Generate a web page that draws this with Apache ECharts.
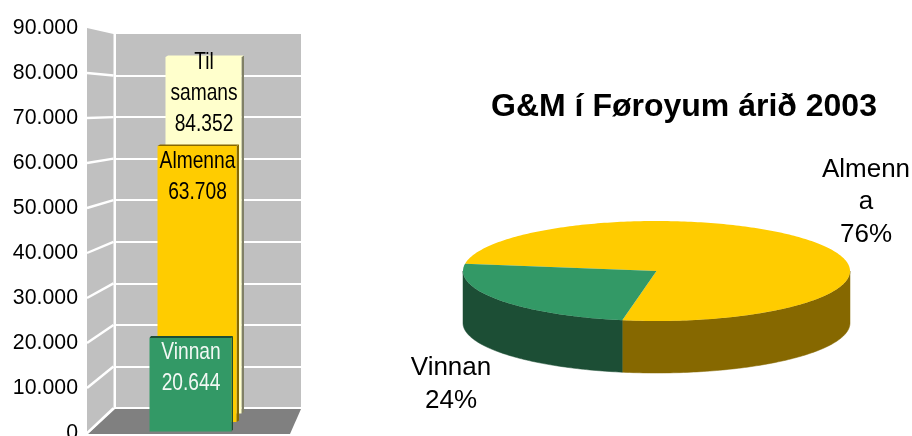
<!DOCTYPE html>
<html>
<head>
<meta charset="utf-8">
<style>
  html, body { margin: 0; padding: 0; background: #fff; }
  #chart { width: 912px; height: 436px; }
</style>
<script src="https://cdn.jsdelivr.net/npm/echarts@6/dist/echarts.min.js"></script>
</head>
<body>
<div id="chart"></div>
<script>
// stacked-looking 3D columns (back to front)
var barNames = ['Til\nsamans', 'Almenna', 'Vinnan']
var barValues = [84352, 63708, 20644]
var barColors = ['#FFFFCC', '#FFCC00', '#339966']
var barSideColors = ['#808066', '#866800', '#1C4E35']
var barTextColors = ['#000', '#000', '#F2F8F4']

var yTicks = [0, 10000, 20000, 30000, 40000, 50000, 60000, 70000, 80000, 90000]

// pie
var pieNames = ['Almenn\na', 'Vinnan']
var pieValues = [63708, 20644]
var pieColors = ['#FFCC00', '#339966']
var pieSideColors = ['#866800', '#1C4E35']

var FONT = '"Liberation Sans", Arial, sans-serif'
var chart = echarts.init(document.getElementById('chart'), null, { renderer: 'canvas' })

function dotted(v) {
  return String(v).replace(/\B(?=(\d{3})+$)/g, '.')
}

function gridBox(left, right, baseY, fullHeight) {
  return {
    left: left,
    width: right - left,
    top: baseY - fullHeight,
    height: fullHeight,
    outerBoundsMode: 'none'
  }
}

// each depth of the perspective has its own grid and value scale
var depths = [
  gridBox(165.5, 241.5, 413.5, 380.4),
  gridBox(157.5, 236.5, 422, 389.9),
  gridBox(149.5, 231.5, 431.5, 407.7)
]
var frontGrid = gridBox(87, 301, 433, 405)
var backGrid = gridBox(116, 301, 408, 374)
backGrid.show = true
backGrid.backgroundColor = '#C0C0C0'
backGrid.borderWidth = 0

var grids = [frontGrid, backGrid].concat(depths)
var xAxes = []
var yAxes = []
grids.forEach(function(g, i) {
  var isFront = i === 0
  var isBack = i === 1
  xAxes.push({
    gridIndex: i,
    type: 'category',
    data: i > 1 ? [barNames[i - 2]] : [''],
    show: false
  })
  yAxes.push({
    gridIndex: i,
    type: 'value',
    min: 0,
    max: 90000,
    interval: 10000,
    axisLine: { show: false },
    axisTick: { show: false },
    axisLabel: {
      show: isFront,
      margin: 9,
      fontFamily: FONT,
      fontSize: 21.3,
      color: '#000',
      formatter: dotted
    },
    splitLine: {
      show: isBack,
      showMaxLine: false,
      lineStyle: { color: '#fff', width: 2 }
    }
  })
})

// side wall and floor, tied to the front and back value axes
function renderWalls() {
  var front = function(v) { return chart.convertToPixel({ yAxisIndex: 0 }, v) }
  var back = function(v) { return chart.convertToPixel({ yAxisIndex: 1 }, v) }
  var wallX0 = 87
  var wallX1 = 113.5
  var top = yTicks[yTicks.length - 1]
  var children = [
    {
      type: 'polygon',
      shape: { points: [[wallX0, front(top)], [wallX1, back(top)], [wallX1, back(0)], [wallX0, front(0)]] },
      style: { fill: '#C0C0C0' }
    },
    {
      type: 'polygon',
      shape: { points: [[115, back(0) + 1], [301, back(0) + 1], [290, front(0) + 1], [88, front(0) + 1]] },
      style: { fill: '#808080' }
    }
  ]
  yTicks.forEach(function(t) {
    if (t === top) return
    children.push({
      type: 'line',
      shape: { x1: wallX0, y1: front(t), x2: wallX1, y2: back(t) },
      style: { stroke: '#fff', lineWidth: 2.4 }
    })
  })
  return { type: 'group', children: children }
}

// one column: front face, thin top and side, wrapped label
function renderBar(idx) {
  return function(params, api) {
    var topPt = api.coord([0, barValues[idx]])
    var basePt = api.coord([0, 0])
    var w = api.size([1, 0])[0]
    var x0 = topPt[0] - w / 2
    var x1 = x0 + w
    var d = idx === 2 ? 1.5 : 2.5
    var lift = idx === 2 ? 2 : 1.5
    var lines = (barNames[idx] + '\n' + dotted(barValues[idx])).split('\n')
    var firstY = topPt[1] + (idx === 0 ? 5 : idx === 1 ? 15 : 14)
    var children = [
      {
        type: 'polygon',
        shape: { points: [[x1, topPt[1]], [x1 + d, topPt[1] - lift], [x1 + d, basePt[1] - lift], [x1, basePt[1]]] },
        style: { fill: barSideColors[idx] }
      },
      {
        type: 'polygon',
        shape: { points: [[x0, topPt[1]], [x0 + d, topPt[1] - lift], [x1 + d, topPt[1] - lift], [x1, topPt[1]]] },
        style: { fill: idx === 0 ? barColors[0] : barSideColors[idx] }
      },
      {
        type: 'rect',
        shape: { x: x0, y: topPt[1], width: w, height: basePt[1] - topPt[1] },
        style: { fill: barColors[idx] }
      }
    ]
    lines.forEach(function(txt, k) {
      children.push({
        type: 'text',
        x: topPt[0] + 0.5,
        y: firstY + k * 31,
        scaleX: 0.8,
        z2: 5,
        style: {
          text: txt,
          fontFamily: FONT,
          fontSize: 24,
          fill: barTextColors[idx],
          align: 'center',
          verticalAlign: 'middle'
        }
      })
    })
    return { type: 'group', children: children }
  }
}

// tilted pie: the angle runs along the ellipse
var PIE_X = 656.5
var PIE_Y = 271
var PIE_RX = 193.5
var PIE_RY = 50
var PIE_DEPTH = 52
var PIE_START = 188.3

function ellipsePt(deg, dy) {
  var a = deg * Math.PI / 180
  return [PIE_X + PIE_RX * Math.cos(a), PIE_Y + PIE_RY * Math.sin(a) + (dy || 0)]
}

function arcPts(from, to, dy) {
  var pts = []
  for (var a = from; a < to; a += 1) pts.push(ellipsePt(a, dy))
  pts.push(ellipsePt(to, dy))
  return pts
}

function pieLabel(i, x, y, total) {
  var pct = Math.round(pieValues[i] / total * 100) + '%'
  return (pieNames[i] + '\n' + pct).split('\n').map(function(txt, k) {
    return {
      type: 'text',
      x: x,
      y: y + k * 32.5,
      style: {
        text: txt,
        fontFamily: FONT,
        fontSize: 26,
        fill: '#000',
        align: 'center',
        verticalAlign: 'middle'
      }
    }
  })
}

function renderPie() {
  var total = pieValues[0] + pieValues[1]
  var angle = PIE_START
  var sides = []
  var tops = []
  pieValues.forEach(function(v, i) {
    var from = angle
    var to = angle + v / total * 360
    angle = to
    // front rim only: the part of the slice between 0 and 180 (or 360 and 540)
    ;[0, 360].forEach(function(offset) {
      var a = Math.max(from, offset)
      var b = Math.min(to, offset + 180)
      if (b > a) {
        sides.push({
          type: 'polygon',
          shape: { points: arcPts(a, b, 0).concat(arcPts(a, b, PIE_DEPTH).reverse()) },
          style: { fill: pieSideColors[i], stroke: pieSideColors[i], lineWidth: 0.5 }
        })
      }
    })
    tops.push({
      type: 'polygon',
      shape: { points: [[PIE_X, PIE_Y]].concat(arcPts(from, to, 0)) },
      style: { fill: pieColors[i] }
    })
  })
  var labels = pieLabel(0, 866, 169.5, total).concat(pieLabel(1, 451, 368, total))
  return { type: 'group', children: sides.concat(tops, labels) }
}

var series = [
  {
    type: 'custom',
    xAxisIndex: 1,
    yAxisIndex: 1,
    data: [[0, 0]],
    silent: true,
    renderItem: renderWalls
  }
]
barNames.forEach(function(name, i) {
  series.push({
    type: 'custom',
    name: name,
    xAxisIndex: i + 2,
    yAxisIndex: i + 2,
    data: [[0, barValues[i]]],
    renderItem: renderBar(i)
  })
})
series.push({
  type: 'custom',
  coordinateSystem: 'none',
  data: [[0]],
  renderItem: renderPie
})

chart.setOption({
  animation: false,
  backgroundColor: '#fff',
  title: {
    text: 'G&M í Føroyum árið 2003',
    left: 679,
    top: 86,
    textAlign: 'center',
    textStyle: { fontFamily: FONT, fontSize: 32, fontWeight: 'bold', color: '#000' }
  },
  grid: grids,
  xAxis: xAxes,
  yAxis: yAxes,
  series: series
})
</script>
</body>
</html>
